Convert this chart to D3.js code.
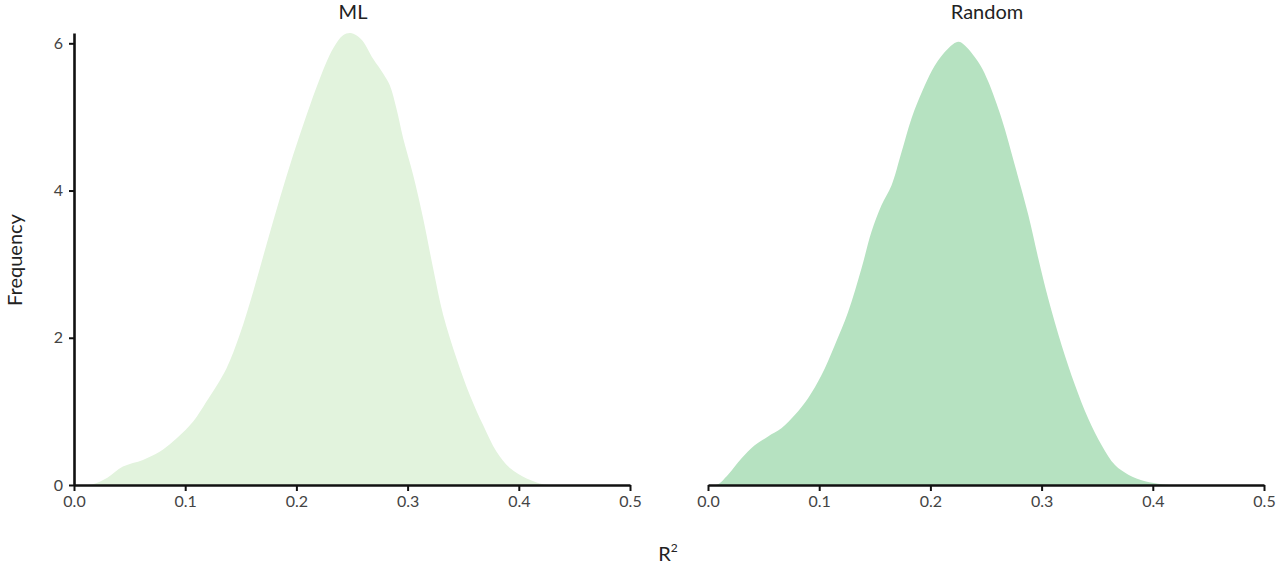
<!DOCTYPE html>
<html>
<head>
<meta charset="utf-8">
<script src="https://cdn.jsdelivr.net/npm/d3@7"></script>
<style>
  body { margin: 0; background: #fff; }
  text { font-family: Lato, "Open Sans", sans-serif; }
</style>
</head>
<body>
<svg id="chart" width="1280" height="567"></svg>
<script>
// density estimates: [R2, frequency]
var mlValues = [
    [0.012, 0], [0.017, 0.01], [0.030, 0.10], [0.044, 0.25], [0.062, 0.34], [0.077, 0.45],
    [0.089, 0.59], [0.107, 0.86], [0.119, 1.13], [0.137, 1.58], [0.149, 2.04],
    [0.161, 2.62], [0.173, 3.26], [0.185, 3.89], [0.197, 4.48], [0.209, 5.02],
    [0.221, 5.52], [0.233, 5.93], [0.242, 6.11], [0.249, 6.14], [0.258, 6.06],
    [0.269, 5.79], [0.278, 5.59], [0.284, 5.43], [0.290, 5.11], [0.296, 4.71],
    [0.305, 4.21], [0.314, 3.62], [0.323, 2.94], [0.332, 2.31], [0.344, 1.72],
    [0.356, 1.22], [0.368, 0.81], [0.380, 0.45], [0.392, 0.23], [0.407, 0.09],
    [0.422, 0.01], [0.428, 0]
];
var randomValues = [
    [0.005, 0], [0.009, 0.01], [0.018, 0.14], [0.030, 0.36], [0.042, 0.54], [0.054, 0.66],
    [0.066, 0.77], [0.078, 0.95], [0.090, 1.18], [0.102, 1.49], [0.114, 1.90],
    [0.126, 2.35], [0.138, 2.94], [0.147, 3.44], [0.156, 3.80], [0.165, 4.07],
    [0.174, 4.52], [0.183, 4.98], [0.195, 5.43], [0.204, 5.70], [0.216, 5.93],
    [0.225, 6.02], [0.231, 5.97], [0.245, 5.70], [0.252, 5.48], [0.264, 4.98],
    [0.276, 4.34], [0.288, 3.67], [0.297, 3.08], [0.306, 2.53], [0.318, 1.90],
    [0.330, 1.36], [0.342, 0.90], [0.354, 0.54], [0.366, 0.27], [0.378, 0.14],
    [0.393, 0.05], [0.408, 0.01], [0.415, 0]
];
var panelNames = ["ML", "Random"];
var panelColors = ["#e2f3dd", "#b6e2c1"];
var xTicks = [0, 0.1, 0.2, 0.3, 0.4, 0.5];
var yTicks = [0, 2, 4, 6];

var svg = d3.select("#chart");

var panelLeft = [74, 708];
var panelWidth = 556;
var plotTop = 33, plotBottom = 485;

var y = d3.scaleLinear().domain([0, 6.14]).range([plotBottom, plotTop]);

var series = [mlValues, randomValues];

series.forEach(function(values, i){
    var x = d3.scaleLinear().domain([0, 0.5]).range([panelLeft[i], panelLeft[i] + panelWidth]);
    var g = svg.append("g");

    var area = d3.area()
        .x(function(d){ return x(d[0]); })
        .y0(y(0))
        .y1(function(d){ return y(d[1]); })
        .curve(d3.curveCatmullRom);

    g.append("path")
        .datum(values)
        .attr("d", area)
        .attr("fill", panelColors[i]);

    // x axis
    var xAxis = d3.axisBottom(x).tickValues(xTicks).tickFormat(d3.format(".1f"))
        .tickSize(6).tickPadding(5).tickSizeOuter(0);
    var gx = g.append("g")
        .attr("transform", "translate(0," + plotBottom + ")")
        .call(xAxis);
    styleAxis(gx);

    // panel title
    g.append("text")
        .attr("x", panelLeft[i] + panelWidth * 0.5 + 1)
        .attr("y", 19)
        .attr("text-anchor", "middle")
        .attr("font-size", 20)
        .attr("fill", "#222")
        .text(panelNames[i]);

    if(i == 0){
        var yAxis = d3.axisLeft(y).tickValues(yTicks).tickFormat(d3.format("d"))
            .tickSize(5).tickPadding(6).tickSizeOuter(0);
        var gy = g.append("g")
            .attr("transform", "translate(" + panelLeft[i] + ",0)")
            .call(yAxis);
        styleAxis(gy);
    }
});

function styleAxis(sel){
    sel.select(".domain").attr("stroke", "#111").attr("stroke-width", 2.6);
    sel.selectAll(".tick line").attr("stroke", "#111").attr("stroke-width", 2);
    sel.selectAll(".tick text").attr("font-size", 16).attr("fill", "#444")
        .attr("font-family", "Lato, 'Open Sans', sans-serif");
}

// axis titles
svg.append("text")
    .attr("transform", "translate(22,260) rotate(-90)")
    .attr("text-anchor", "middle")
    .attr("font-size", 20)
    .attr("fill", "#222")
    .text("Frequency");

var xt = svg.append("text")
    .attr("x", 668)
    .attr("y", 561)
    .attr("text-anchor", "middle")
    .attr("font-size", 20)
    .attr("fill", "#222");
xt.append("tspan").text("R");
xt.append("tspan").attr("font-size", 12).attr("dy", -9).text("2");
</script>
</body>
</html>
